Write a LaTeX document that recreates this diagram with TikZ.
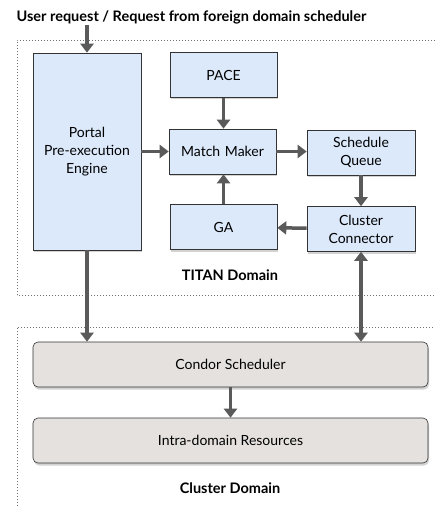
\documentclass[tikz,border=0pt]{standalone}
\usepackage{fontspec}
\setmainfont{Lato}
\usepackage{tikz}
\usetikzlibrary{shapes,arrows.meta}
\usetikzlibrary{fit,backgrounds,positioning,shadows}
\definecolor{boxblue}{RGB}{220,233,251}
\definecolor{boxgray}{RGB}{228,225,222}
\definecolor{arrowgray}{RGB}{90,90,90}
\tikzstyle{block} = [rectangle, draw=black!80, fill=boxblue, line width=0.6pt,
text width=100pt, align=center, minimum width=107pt, minimum height=45pt,
drop shadow={shadow xshift=1pt, shadow yshift=-2pt, opacity=0.35}]
\tikzstyle{resource} = [rectangle, draw=black!80, fill=boxgray, line width=0.6pt,
rounded corners=5pt, minimum width=395pt, minimum height=45pt,
drop shadow={shadow xshift=1pt, shadow yshift=-2.5pt, opacity=0.35}]
\tikzstyle{line} = [draw, color=arrowgray, line width=3.5pt, -{Triangle[length=9pt,width=13pt]}]
\tikzstyle{domainbox} = [draw=black!55, line width=0.6pt, dash pattern=on 0.8pt off 2.2pt]
\tikzstyle{caption} = [font=\fontsize{14.5}{17}\selectfont\bfseries]

\begin{document}
\begin{tikzpicture}[x=1pt, y=1pt, node distance=2cm, font=\fontsize{14}{18}\selectfont]
\clip (0,0) rectangle (435,-508);
\fill[white] (0,0) rectangle (435,-508);

% Domains
\draw [domainbox] (17,-295) |- (440,-40);
\draw [domainbox] (440,-295) -- (17,-295);
\draw [domainbox] (17,-515) |- (440,-327);

% Place nodes
\node [caption, anchor=west] (t1) at (13,-17) {User request / Request from foreign domain scheduler};
\coordinate (c1) at (87,-25);
\node [block, minimum width=108pt, minimum height=197pt] (i1) at (87,-151.5) {Portal\\Pre-execution\\Engine};
\node [block, right of=i1, node distance=135.5pt] (i2) {Match Maker};
\node [block, above of=i2, node distance=76.5pt, xshift=1pt] (i3) {PACE};
\node [block, right of=i2, node distance=138.5pt, minimum width=108pt, yshift=-1pt] (i4) {Schedule\\Queue};
\node [block, below of=i2, node distance=75.5pt, xshift=1pt] (i5) {GA};
\node [block, below of=i4, node distance=76.5pt, minimum width=108pt] (i6) {Cluster\\Connector};
\node [caption] (l1) at (230,-275) {TITAN Domain};

\node [resource] (i7) at (230.5,-364.5) {Condor Scheduler};
\node [resource, below of=i7, node distance=76pt] (i8) {Intra-domain Resources};
\node [caption] (l2) at (230,-488) {Cluster Domain};

% Draw edges
\path [line] (c1) -- (i1.north);
\path [line] (i1.east |- i2) -- (i2);
\path [line] (i3) -- (i3 |- i2.north);
\path [line] (i2) -- (i4.west |- i2);
\path [line] (i4) -- (i6);
\path [line] (i6) -- (i5);
\path [line] (i5) -- (i5 |- i2.south);
\path [line] (i1.south) -- (i1 |- i7.north);
\path [line, {Triangle[length=9pt,width=13pt]}-{Triangle[length=9pt,width=13pt]}] (i6.south) -- (i6 |- i7.north);
\path [line] (i7 |- i7.south) -- (i8);
\end{tikzpicture}
\end{document}
